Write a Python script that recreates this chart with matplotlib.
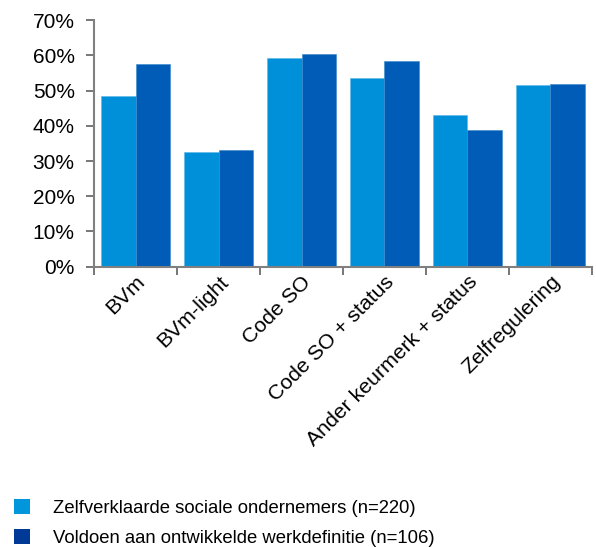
import matplotlib.pyplot as plt
from matplotlib.patches import Patch
import numpy as np

plt.rcParams['font.family'] = ['Liberation Sans', 'DejaVu Sans']

categories = ["BVm", "BVm-light", "Code SO", "Code SO + status",
              "Ander keurmerk + status", "Zelfregulering"]
zelfverklaard = [48.5, 32.6, 59.4, 53.5, 43.1, 51.7]
werkdefinitie = [57.5, 33.0, 60.4, 58.5, 38.7, 51.8]
series_labels = ["Zelfverklaarde sociale ondernemers (n=220)",
                 "Voldoen aan ontwikkelde werkdefinitie (n=106)"]
yticks = [0, 10, 20, 30, 40, 50, 60, 70]

light = "#0090d9"
dark = "#005cb6"

fig = plt.figure(figsize=(5.96, 5.47), dpi=100)
ax = fig.add_axes([0.158, 0.5125, 0.835, 0.4505])

x = np.arange(len(categories))
w = 0.415
ax.bar(x - w / 2, zelfverklaard, w, color=light, edgecolor="#5ab4e8", linewidth=0.4)
ax.bar(x + w / 2, werkdefinitie, w, color=dark, edgecolor="#3a88cc", linewidth=0.4)

ax.set_xlim(-0.5, len(categories) - 0.5)
ax.set_ylim(0, 70)
ax.set_yticks(yticks)
ax.set_yticklabels([f"{v}%" for v in yticks], fontsize=15)

ax.set_xticks(x)
ax.set_xticklabels(categories, rotation=45, ha="right", rotation_mode="anchor", fontsize=15.3)
ax.tick_params(axis="x", which="major", length=0, pad=4)
ax.set_xticks(np.arange(len(categories) + 1) - 0.5, minor=True)
ax.tick_params(axis="x", which="minor", length=6, color="#606060", width=1.2)
ax.tick_params(axis="y", length=6, color="#606060", width=1.2, pad=8)

for s in ["top", "right"]:
    ax.spines[s].set_visible(False)
for s in ["left", "bottom"]:
    ax.spines[s].set_color("#808080")
    ax.spines[s].set_linewidth(1.5)

handles = [Patch(facecolor="#0096dc"), Patch(facecolor="#003a96")]
fig.legend(handles, series_labels, loc="upper left", bbox_to_anchor=(0.011, 0.101),
           frameon=False, fontsize=13.3, handlelength=0.86, handleheight=0.86,
           handletextpad=1.25, labelspacing=0.65, borderaxespad=0)

fig.savefig("out.png", dpi=100)
